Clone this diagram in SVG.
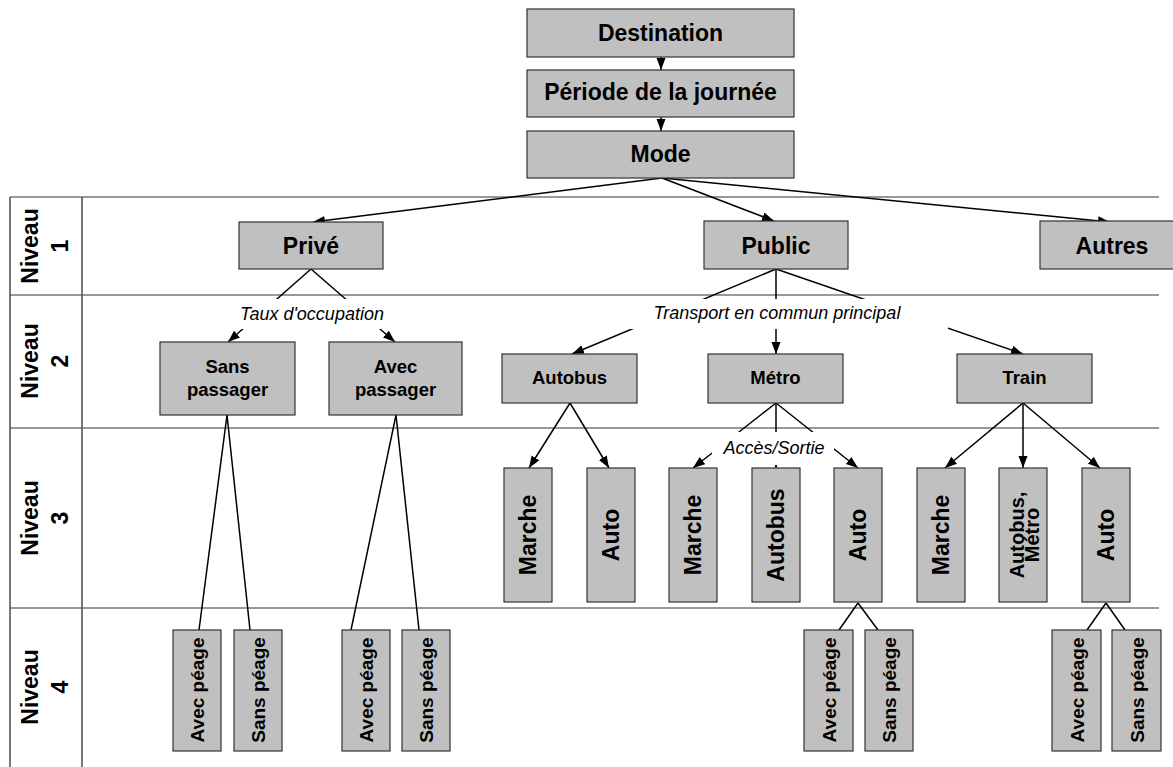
<svg xmlns="http://www.w3.org/2000/svg" width="1173" height="767" viewBox="0 0 1173 767">
  <defs>
    <marker id="arr" markerUnits="userSpaceOnUse" markerWidth="13" markerHeight="10" refX="12" refY="4.5" orient="auto">
      <path d="M0,0 L12,4.5 L0,9 Z" fill="#000"/>
    </marker>
    <style>
      .box { fill: #c0c0c0; stroke: #333; stroke-width: 1.2; }
      .t { font-family: "Liberation Sans", Arial, sans-serif; font-weight: bold; text-anchor: middle; fill: #000; }
      .big { font-size: 23px; }
      .mid { font-size: 18.5px; }
      .sm { font-size: 19px; }
      .lbl { font-family: "Liberation Sans", Arial, sans-serif; font-style: italic; font-size: 18px; text-anchor: middle; fill: #000; }
      .grid { stroke: #333; stroke-width: 1; fill: none; }
      .gridv { stroke: #555; stroke-width: 1.6; fill: none; }
      .c { stroke: #000; stroke-width: 1.5; fill: none; }
      .ca { stroke: #000; stroke-width: 1.5; fill: none; marker-end: url(#arr); }
    </style>
  </defs>
  <rect width="1173" height="767" fill="#fff"/>

  <!-- level grid -->
  <g id="grid">
    <line class="grid" x1="10" y1="197" x2="1159" y2="197"/>
    <line class="grid" x1="10" y1="295" x2="1159" y2="295"/>
    <line class="grid" x1="10" y1="428" x2="1159" y2="428"/>
    <line class="grid" x1="10" y1="608" x2="1159" y2="608"/>
    <line class="gridv" x1="10" y1="197" x2="10" y2="767"/>
    <line class="gridv" x1="82" y1="197" x2="82" y2="767"/>
  </g>

  <!-- level headings -->
  <g id="levels" class="t big">
    <g transform="translate(46,246) rotate(-90)"><text x="0" y="-8">Niveau</text><text x="0" y="22">1</text></g>
    <g transform="translate(46,361) rotate(-90)"><text x="0" y="-8">Niveau</text><text x="0" y="22">2</text></g>
    <g transform="translate(46,518) rotate(-90)"><text x="0" y="-8">Niveau</text><text x="0" y="22">3</text></g>
    <g transform="translate(46,687) rotate(-90)"><text x="0" y="-8">Niveau</text><text x="0" y="22">4</text></g>
  </g>

  <!-- connectors -->
  <g id="connectors">
    <line class="ca" x1="661" y1="57" x2="661" y2="70"/>
    <line class="ca" x1="661" y1="117" x2="661" y2="131"/>
    <line class="ca" x1="662" y1="178" x2="313" y2="222"/>
    <line class="ca" x1="662" y1="178" x2="774" y2="221"/>
    <line class="ca" x1="662" y1="178" x2="1110" y2="222"/>

    <line class="ca" x1="311" y1="269" x2="228" y2="342"/>
    <line class="ca" x1="311" y1="269" x2="395" y2="342"/>
    <line class="ca" x1="776" y1="269" x2="572" y2="354"/>
    <line class="ca" x1="776" y1="269" x2="776" y2="354"/>
    <line class="ca" x1="776" y1="269" x2="1023" y2="354"/>

    <line class="ca" x1="570" y1="403" x2="529" y2="468"/>
    <line class="ca" x1="570" y1="403" x2="609" y2="468"/>
    <line class="ca" x1="776" y1="403" x2="693" y2="468"/>
    <line class="ca" x1="776" y1="403" x2="776" y2="468"/>
    <line class="ca" x1="776" y1="403" x2="858" y2="468"/>
    <line class="ca" x1="1023" y1="403" x2="945" y2="468"/>
    <line class="ca" x1="1023" y1="403" x2="1023" y2="468"/>
    <line class="ca" x1="1023" y1="403" x2="1100" y2="468"/>

    <line class="c" x1="227" y1="415" x2="199" y2="630"/>
    <line class="c" x1="227" y1="415" x2="250" y2="630"/>
    <line class="c" x1="396" y1="415" x2="351" y2="630"/>
    <line class="c" x1="396" y1="415" x2="419" y2="630"/>
    <line class="c" x1="858" y1="603" x2="839" y2="630"/>
    <line class="c" x1="858" y1="603" x2="878" y2="630"/>
    <line class="c" x1="1106" y1="603" x2="1087" y2="630"/>
    <line class="c" x1="1106" y1="603" x2="1125" y2="630"/>
  </g>

  <!-- connector labels -->
  <g id="label-taux">
    <rect x="235" y="299" width="155" height="30" fill="#fff"/>
    <text class="lbl" x="312" y="320">Taux d'occupation</text>
  </g>
  <g id="label-transport">
    <rect x="628" y="299" width="320" height="30" fill="#fff"/>
    <text class="lbl" x="777" y="319">Transport en commun principal</text>
  </g>
  <g id="label-acces">
    <rect x="712" y="432" width="122" height="33" fill="#fff"/>
    <text class="lbl" x="774" y="454">Accès/Sortie</text>
  </g>

  <!-- top chain -->
  <g id="destination"><rect class="box" x="527" y="9" width="267" height="48"/><text class="t big" x="660.5" y="41">Destination</text></g>
  <g id="periode"><rect class="box" x="527" y="70" width="267" height="47"/><text class="t big" x="660.5" y="100">Période de la journée</text></g>
  <g id="mode"><rect class="box" x="527" y="131" width="267" height="47"/><text class="t big" x="660.5" y="162">Mode</text></g>

  <!-- level 1 -->
  <g id="prive"><rect class="box" x="239" y="222" width="144" height="47"/><text class="t big" x="311" y="253.5">Privé</text></g>
  <g id="public"><rect class="box" x="704" y="221" width="144" height="48"/><text class="t big" x="776" y="253.5">Public</text></g>
  <g id="autres"><rect class="box" x="1040" y="221" width="144" height="48"/><text class="t big" x="1112" y="253.5">Autres</text></g>

  <!-- level 2 -->
  <g id="sans-passager"><rect class="box" x="160" y="342" width="135" height="73"/><text class="t mid" x="227.5" y="373">Sans</text><text class="t mid" x="227.5" y="396">passager</text></g>
  <g id="avec-passager"><rect class="box" x="329" y="342" width="133" height="73"/><text class="t mid" x="395.5" y="373">Avec</text><text class="t mid" x="395.5" y="396">passager</text></g>
  <g id="autobus"><rect class="box" x="502" y="354" width="135" height="49"/><text class="t mid" x="569.5" y="384">Autobus</text></g>
  <g id="metro"><rect class="box" x="708" y="354" width="135" height="49"/><text class="t mid" x="775.5" y="384">Métro</text></g>
  <g id="train"><rect class="box" x="957" y="354" width="135" height="49"/><text class="t mid" x="1024.5" y="384">Train</text></g>

  <!-- level 3 -->
  <g id="autobus-marche"><rect class="box" x="504" y="468" width="48" height="134"/><text class="t big" transform="translate(528,535) rotate(-90)" y="8">Marche</text></g>
  <g id="autobus-auto"><rect class="box" x="587" y="468" width="48" height="134"/><text class="t big" transform="translate(611,535) rotate(-90)" y="8">Auto</text></g>
  <g id="metro-marche"><rect class="box" x="669" y="468" width="48" height="134"/><text class="t big" transform="translate(693,535) rotate(-90)" y="8">Marche</text></g>
  <g id="metro-autobus"><rect class="box" x="752" y="468" width="48" height="134"/><text class="t big" transform="translate(776,535) rotate(-90)" y="8">Autobus</text></g>
  <g id="metro-auto"><rect class="box" x="834" y="468" width="48" height="134"/><text class="t big" transform="translate(858,535) rotate(-90)" y="8">Auto</text></g>
  <g id="train-marche"><rect class="box" x="917" y="468" width="48" height="134"/><text class="t big" transform="translate(941,535) rotate(-90)" y="8">Marche</text></g>
  <g id="train-autobus-metro"><rect class="box" x="999" y="468" width="48" height="134"/><g class="t" style="font-size:20px" transform="translate(1023,535) rotate(-90)"><text y="1">Autobus,</text><text y="16">Métro</text></g></g>
  <g id="train-auto"><rect class="box" x="1082" y="468" width="48" height="134"/><text class="t big" transform="translate(1106,535) rotate(-90)" y="8">Auto</text></g>

  <!-- level 4 -->
  <g id="sp-avec"><rect class="box" x="173" y="630" width="48" height="121"/><text class="t sm" transform="translate(197,690) rotate(-90)" y="7">Avec péage</text></g>
  <g id="sp-sans"><rect class="box" x="234" y="630" width="48" height="121"/><text class="t sm" transform="translate(258,690) rotate(-90)" y="7">Sans péage</text></g>
  <g id="ap-avec"><rect class="box" x="342" y="630" width="48" height="121"/><text class="t sm" transform="translate(366,690) rotate(-90)" y="7">Avec péage</text></g>
  <g id="ap-sans"><rect class="box" x="402" y="630" width="48" height="121"/><text class="t sm" transform="translate(426,690) rotate(-90)" y="7">Sans péage</text></g>
  <g id="ma-avec"><rect class="box" x="804" y="630" width="49" height="121"/><text class="t sm" transform="translate(828.5,690) rotate(-90)" y="7">Avec péage</text></g>
  <g id="ma-sans"><rect class="box" x="865" y="630" width="48" height="121"/><text class="t sm" transform="translate(889,690) rotate(-90)" y="7">Sans péage</text></g>
  <g id="ta-avec"><rect class="box" x="1052" y="630" width="49" height="121"/><text class="t sm" transform="translate(1076.5,690) rotate(-90)" y="7">Avec péage</text></g>
  <g id="ta-sans"><rect class="box" x="1112" y="630" width="49" height="121"/><text class="t sm" transform="translate(1136.5,690) rotate(-90)" y="7">Sans péage</text></g>
</svg>
